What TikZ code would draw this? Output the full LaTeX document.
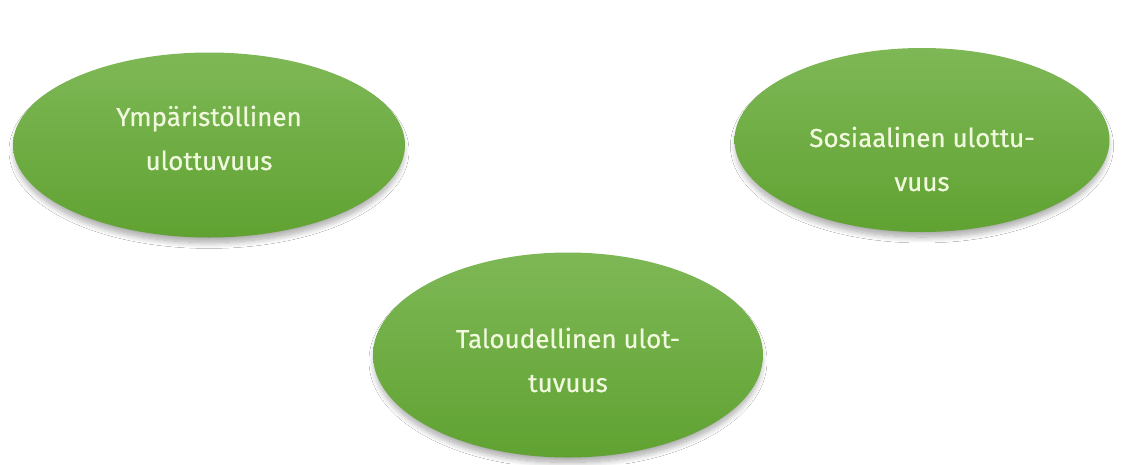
\documentclass[tikz,border=0pt]{standalone}
\usepackage{fontspec}
\setmainfont{Fira Sans}
\newfontfamily\lblfont[FakeBold=0.6]{Fira Sans}
\usetikzlibrary{shapes.geometric,shadows.blur}
\definecolor{gtop}{RGB}{126,184,86}
\definecolor{gbot}{RGB}{96,162,50}
\definecolor{txtc}{RGB}{240,248,222}
\begin{document}
\begin{tikzpicture}[x=1pt,y=-1pt,
  blob/.style={ellipse,inner sep=0pt,draw=none,top color=gtop,bottom color=gbot,
    blur shadow={shadow xshift=0pt,shadow yshift=-6pt,shadow scale=0.99,shadow blur radius=6pt,shadow opacity=35,shadow blur steps=12}},
  lbl/.style={text=txtc,align=center,font=\lblfont\fontsize{26}{44}\selectfont}]
\useasboundingbox (0,0) rectangle (1125,464);
\fill[white] (0,0) rectangle (1125,464);
\node[blob,minimum width=392pt,minimum height=185pt] (env) at (209,145) {};
\node[blob,minimum width=375pt,minimum height=184pt] (soc) at (922,140) {};
\node[blob,minimum width=390pt,minimum height=205pt] (eco) at (568,355) {};
\node[lbl] (envt) at (209,138) {Ympäristöllinen\\ulottuvuus};
\node[lbl] (soct) at (922,159) {Sosiaalinen ulottu-\\vuus};
\node[lbl] (ecot) at (568,360) {Taloudellinen ulot-\\tuvuus};
\end{tikzpicture}
\end{document}
